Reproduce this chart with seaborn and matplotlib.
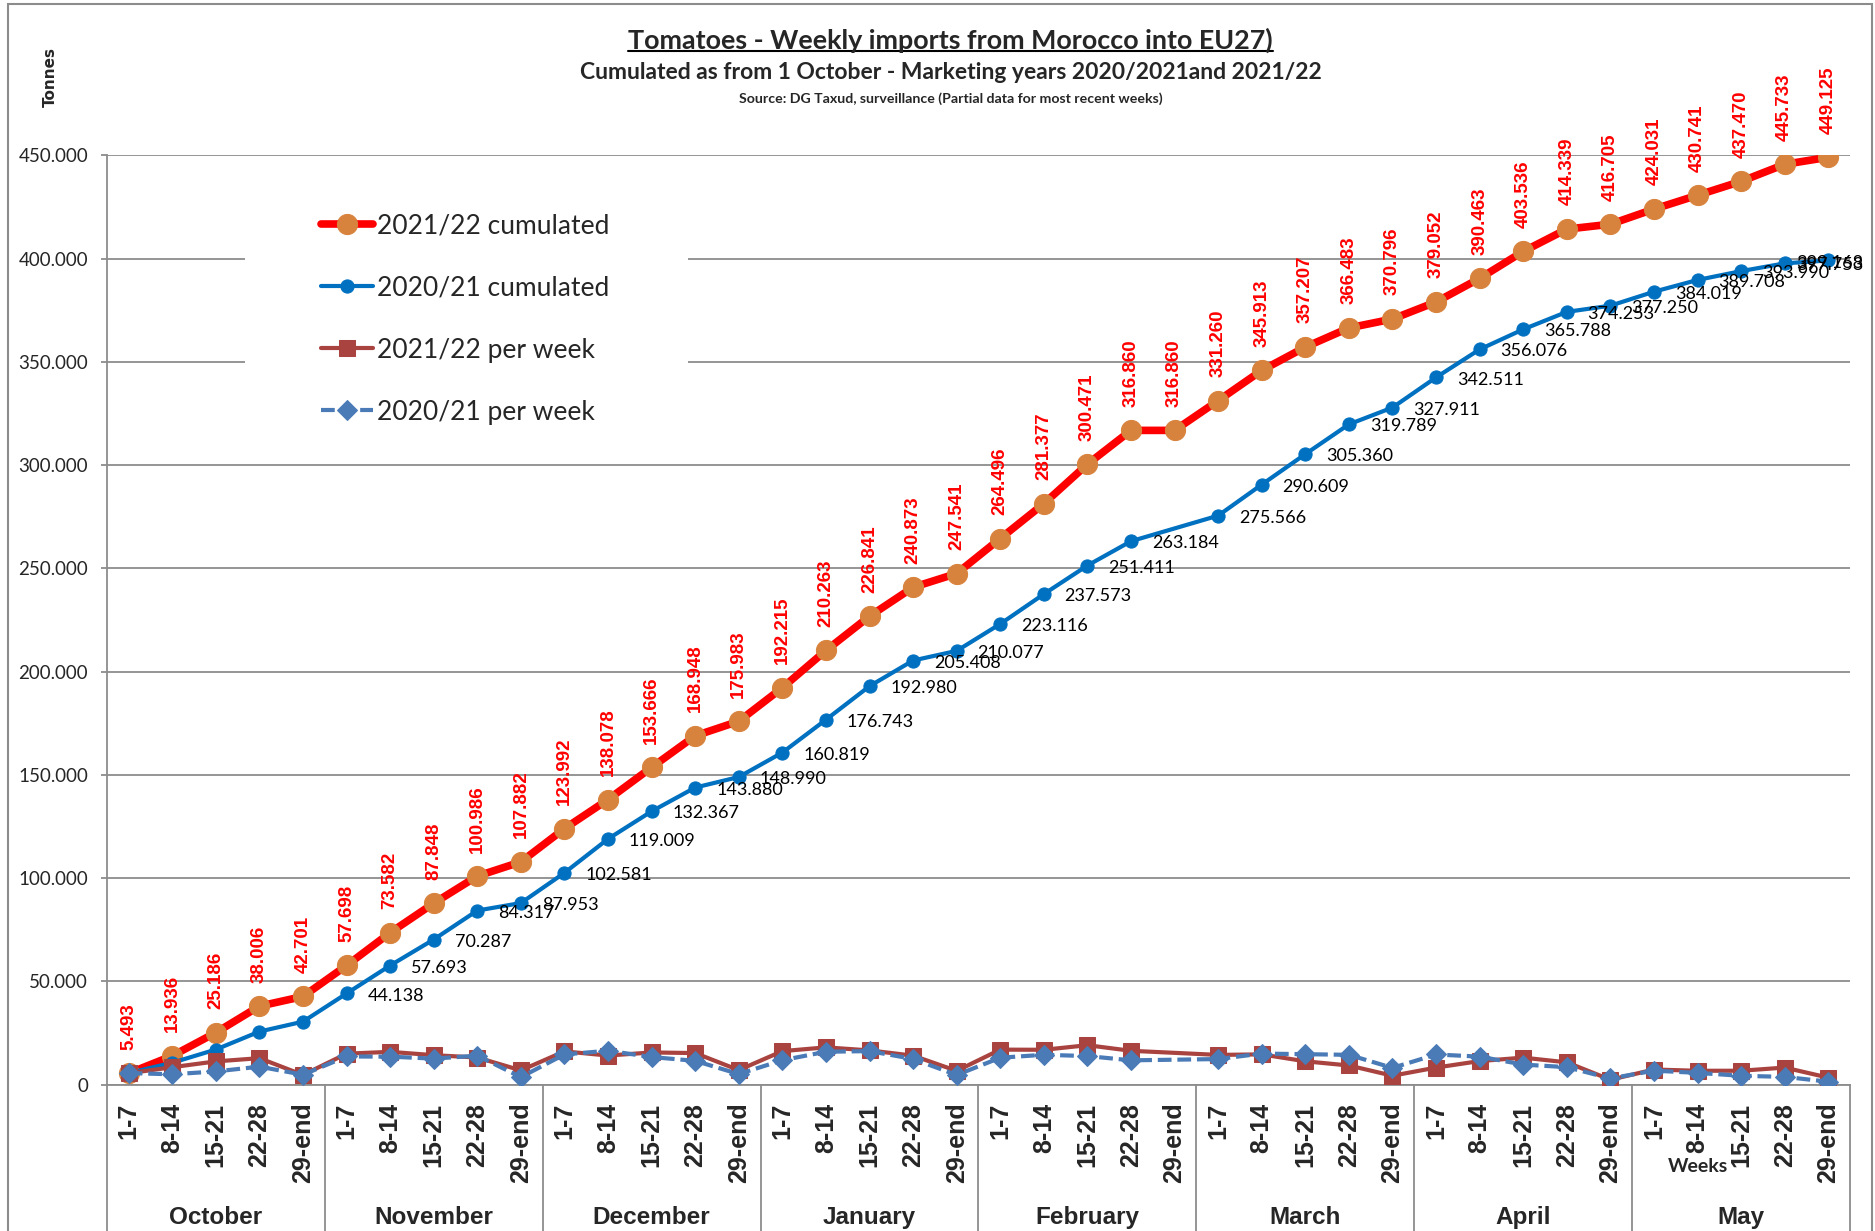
import numpy as np
import pandas as pd
import matplotlib.pyplot as plt
import matplotlib.transforms as mtransforms
from matplotlib.lines import Line2D
from matplotlib.patches import Rectangle
from matplotlib.ticker import FuncFormatter
import seaborn as sns

# --- data (tonnes) ---
months = ['October', 'November', 'December', 'January', 'February', 'March', 'April', 'May']
weeks = ['1-7', '8-14', '15-21', '22-28', '29-end']

cum_2122 = [5493, 13936, 25186, 38006, 42701,
            57698, 73582, 87848, 100986, 107882,
            123992, 138078, 153666, 168948, 175983,
            192215, 210263, 226841, 240873, 247541,
            264496, 281377, 300471, 316860, 316860,
            331260, 345913, 357207, 366483, 370796,
            379052, 390463, 403536, 414339, 416705,
            424031, 430741, 437470, 445733, 449125]

cum_2021 = [5600, 10600, 17000, 25700, 30500,
            44138, 57693, 70287, 84317, 87953,
            102581, 119009, 132367, 143880, 148990,
            160819, 176743, 192980, 205408, 210077,
            223116, 237573, 251411, 263184, np.nan,
            275566, 290609, 305360, 319789, 327911,
            342511, 356076, 365788, 374253, 377250,
            384019, 389708, 393990, 397753, 399168]

week_2122 = [5493, 8443, 11250, 12820, 4695,
             14997, 15884, 14266, 13138, 6896,
             16110, 14086, 15588, 15282, 7035,
             16232, 18048, 16578, 14032, 6668,
             16955, 16881, 19094, 16389, np.nan,
             14400, 14653, 11294, 9276, 4313,
             8256, 11411, 13073, 10803, 2366,
             7326, 6710, 6729, 8263, 3392]

week_2021 = [5600, 5000, 6400, 8700, 4800,
             13638, 13555, 12594, 14030, 3636,
             14628, 16428, 13358, 11513, 5110,
             11829, 15924, 16237, 12428, 4669,
             13039, 14457, 13838, 11773, np.nan,
             12382, 15043, 14751, 14429, 8122,
             14600, 13565, 9712, 8465, 2997,
             6769, 5689, 4282, 3763, 1415]

blue_labels_from = 5  # October points of 2020/21 carry no label

week_labels = [w for m in months for w in weeks]
df = pd.DataFrame({'x': np.arange(len(week_labels)),
                   'cum_2122': cum_2122, 'cum_2021': cum_2021,
                   'week_2122': week_2122, 'week_2021': week_2021})


def fmt(v):
    return f'{v:,.0f}'.replace(',', '.')


# --- style ---
sns.set_theme(style='white')
plt.rcParams['font.family'] = ['Lato', 'DejaVu Sans']
ARIAL = ['Liberation Sans', 'DejaVu Sans']
GRID = '#8c8c8c'

fig = plt.figure(figsize=(18.75, 12.31), dpi=100)
ax = fig.add_axes([0.0570, 0.1189, 0.9297, 0.7548])

series = [
    ('cum_2122', '2021/22 cumulated', dict(color='#FF0000', linewidth=5.5, marker='o', markersize=14.5,
                                           markerfacecolor='#D8833D', markeredgecolor='#D8833D')),
    ('cum_2021', '2020/21 cumulated', dict(color='#0070C0', linewidth=3, marker='o', markersize=9.5,
                                           markerfacecolor='#0070C0', markeredgecolor='#0070C0')),
    ('week_2122', '2021/22 per week', dict(color='#A9433F', linewidth=3, marker='s', markersize=11,
                                           markerfacecolor='#A9433F', markeredgecolor='#A9433F')),
    ('week_2021', '2020/21 per week', dict(color='#4A7BB7', linewidth=3, marker='D', markersize=10,
                                           markerfacecolor='#4A7BB7', markeredgecolor='#4A7BB7',
                                           linestyle=(0, (3.3, 1.4)))),
]
for z, (col, lab, kw) in enumerate(series):
    sub = df.dropna(subset=[col])
    sns.lineplot(data=sub, x='x', y=col, ax=ax, label=lab, estimator=None, sort=False,
                 zorder=3 + z, **kw)

# data labels
for xi, v in zip(df['x'], cum_2122):
    ax.annotate(fmt(v), (xi, v), xytext=(0, 17), textcoords='offset points',
                rotation=90, ha='center', va='bottom', color='#FF0000', fontsize=13.5,
                fontweight='bold', family=ARIAL, zorder=10)
blue_anns = []
for xi, v in zip(df['x'], cum_2021):
    if xi < blue_labels_from or np.isnan(v):
        continue
    blue_anns.append(ax.annotate(fmt(v), (xi, v), xytext=(15, -1.5), textcoords='offset points',
                                 ha='left', va='center', color='black', fontsize=13, zorder=10,
                                 annotation_clip=False))

# axes
ax.set_xlim(-0.5, len(week_labels) - 0.5)
ax.set_ylim(0, 450000)
ax.set_yticks(np.arange(0, 450001, 50000))
ax.yaxis.set_major_formatter(FuncFormatter(lambda v, p: fmt(v)))
ax.set_xticks(df['x'])
ax.set_xticklabels(week_labels, rotation=90, fontweight='bold', family=ARIAL, fontsize=18)
ax.tick_params(axis='x', length=0, pad=13)
ax.tick_params(axis='y', length=4.5, color=GRID, width=1.3, labelsize=13.5, pad=9, left=True)
ax.set_xlabel('')
ax.set_ylabel('')
ax.yaxis.grid(True, color=GRID, linewidth=1.3)
ax.set_axisbelow(True)
for s in ['top', 'right']:
    ax.spines[s].set_visible(False)
for s in ['left', 'bottom']:
    ax.spines[s].set_color(GRID)
    ax.spines[s].set_linewidth(1.3)

# month separators and labels
trans_ax = mtransforms.blended_transform_factory(ax.transData, ax.transAxes)
trans_fig = mtransforms.blended_transform_factory(ax.transData, fig.transFigure)
n = len(weeks)
for k in range(len(months) + 1):
    xb = k * n - 0.5
    ax.plot([xb, xb], [0, -0.3], transform=trans_ax, color=GRID, lw=1.3, clip_on=False)
for k, m in enumerate(months):
    ax.text(k * n + (n - 1) / 2, 0.0106, m, transform=trans_fig, ha='center', va='center',
            fontsize=17.5, fontweight='bold', family=ARIAL)
ax.text(36, 0.0520, 'Weeks', transform=trans_fig, ha='center', va='center',
        fontsize=14, fontweight='bold')

# legend on a white patch that hides the gridlines
ax.add_patch(Rectangle((0.1307, 0.6344), 0.2363, 0.2275, transform=fig.transFigure,
                       facecolor='white', edgecolor='none', zorder=1))
handles, labels = ax.get_legend_handles_labels()
leg = ax.legend(handles, labels, loc='upper left', bbox_to_anchor=(0.164, 0.8376),
                bbox_transform=fig.transFigure, frameon=False, fontsize=19, borderpad=0,
                handlelength=2.0, handletextpad=0.15, labelspacing=1.41)
leg.set_zorder(12)

# titles
title = fig.text(0.507, 0.9675, 'Tomatoes - Weekly imports from Morocco into EU27)', ha='center',
                 va='center', fontsize=19.4, fontweight='bold')
fig.text(0.507, 0.9415, 'Cumulated as from 1 October - Marketing years 2020/2021and 2021/22',
         ha='center', va='center', fontsize=16.5, fontweight='bold')
fig.text(0.507, 0.920, 'Source: DG Taxud, surveillance (Partial data for most recent weeks)',
         ha='center', va='center', fontsize=10.2, fontweight='bold')
fig.text(0.0267, 0.9374, 'Tonnes', rotation=90, ha='center', va='center', fontsize=11,
         fontweight='bold', family=['DejaVu Sans'])

# outer chart border
fig.add_artist(Rectangle((0.0043, -0.1), 0.9941, 1.0967, transform=fig.transFigure,
                         fill=False, edgecolor=GRID, linewidth=1.5))

fig.canvas.draw()
# keep the last blue labels inside the chart area, as the spreadsheet does
limit = 1863
for ann in blue_anns:
    bb = ann.get_window_extent()
    if bb.x1 > limit:
        dx, dy = ann.xyann
        ann.xyann = (dx - (bb.x1 - limit) * 72 / fig.dpi, dy)

# underline the title
bb = title.get_window_extent()
fig.add_artist(Line2D([bb.x0, bb.x1], [bb.y0 + 2, bb.y0 + 2], transform=mtransforms.IdentityTransform(),
                      color='black', linewidth=1.5))

fig.savefig('out.png', dpi=100)
